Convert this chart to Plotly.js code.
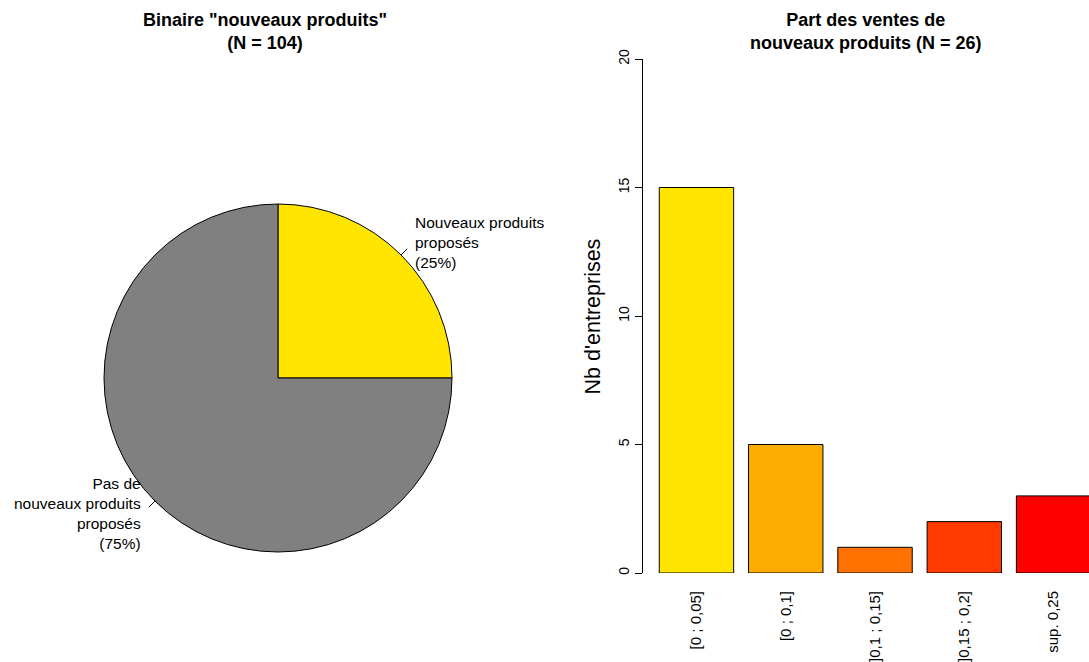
<!DOCTYPE html>
<html>
<head>
<meta charset="utf-8">
<script src="https://cdn.plot.ly/plotly-3.0.1.min.js"></script>
<style>html,body{margin:0;padding:0;background:#fff;}#chart{width:1089px;height:662px;}</style>
</head>
<body>
<div id="chart"></div>
<script>
// ---- data ----
const pieLabels = ["Nouveaux produits<br>proposés<br>(25%)", "Pas de<br>nouveaux produits<br>proposés<br>(75%)"];
const pieValues = [26, 78];
const pieColors = ["#FFE500", "#808080"];

const barCategories = ["[0 ; 0,05]", "[0 ; 0,1]", "]0,1 ; 0,15]", "]0,15 ; 0,2]", "sup. 0,25"];
const barValues = [15, 5, 1, 2, 3];
const barColors = ["#FFE500", "#FFAC00", "#FF7200", "#FF3900", "#FF0000"];

const titleLeft = 'Binaire "nouveaux produits"<br>(N = 104)';
const titleRight = 'Part des ventes de<br>nouveaux produits (N = 26)';
const yTitle = "Nb d'entreprises";

// ---- layout geometry ----
const W = 1089, H = 662;
const FONT = '"Liberation Sans", Arial, Helvetica, sans-serif';
const px = x => x / W;
const py = y => 1 - y / H;

const pieCx = 278, pieCy = 378, pieR = 174;

const total = pieValues.reduce((a, b) => a + b, 0);
const annotations = [];
const shapes = [];
let cum = 0;
pieValues.forEach((v, i) => {
  const mid = (cum + v / 2) / total;
  cum += v;
  const th = Math.PI / 2 - 2 * Math.PI * mid;
  const c = Math.cos(th), s = Math.sin(th);
  shapes.push({
    type: 'line', xref: 'paper', yref: 'paper',
    x0: px(pieCx + pieR * c), y0: py(pieCy - pieR * s),
    x1: px(pieCx + 1.05 * pieR * c), y1: py(pieCy - 1.05 * pieR * s),
    line: {color: '#000', width: 1}
  });
  annotations.push({
    xref: 'paper', yref: 'paper',
    x: px(pieCx + 1.1 * pieR * c), y: py(pieCy - 1.1 * pieR * s),
    xanchor: c >= 0 ? 'left' : 'right', yanchor: 'middle',
    align: c >= 0 ? 'left' : 'right',
    text: pieLabels[i], showarrow: false,
    font: {family: FONT, size: 15.5, color: '#000'}
  });
});

annotations.push({
  xref: 'paper', yref: 'paper', x: px(265), y: py(31.5),
  xanchor: 'center', yanchor: 'middle', showarrow: false,
  text: '<b>' + titleLeft.replace('<br>', '</b><br><b>') + '</b>',
  font: {family: FONT, size: 18, color: '#000'}
});
annotations.push({
  xref: 'paper', yref: 'paper', x: px(866), y: py(31.5),
  xanchor: 'center', yanchor: 'middle', showarrow: false,
  text: '<b>' + titleRight.replace('<br>', '</b><br><b>') + '</b>',
  font: {family: FONT, size: 18, color: '#000'}
});
annotations.push({
  xref: 'paper', yref: 'paper', x: px(592), y: py(316.5),
  xanchor: 'center', yanchor: 'middle', showarrow: false,
  textangle: -90, text: yTitle,
  font: {family: FONT, size: 21.5, color: '#000'}
});

// bar axis geometry (R barplot: width 1, space 0.2)
const axisLeftPx = 642, unitPx = 74.4, slot = 1.2;
const xr0 = -(0.2 + 0.5 + 0.032) / slot;
const xr1 = xr0 + (W - axisLeftPx) / (unitPx * slot);

const traces = [
  {
    type: 'pie', values: pieValues, labels: ['a', 'b'],
    marker: {colors: pieColors, line: {color: '#000', width: 1}},
    sort: false, direction: 'clockwise', rotation: 0,
    textinfo: 'none', hoverinfo: 'none', showlegend: false,
    domain: {x: [px(pieCx - pieR), px(pieCx + pieR)], y: [py(pieCy + pieR), py(pieCy - pieR)]}
  },
  {
    type: 'bar', x: barCategories, y: barValues,
    marker: {color: barColors, line: {color: '#000', width: 1}},
    xaxis: 'x', yaxis: 'y', showlegend: false, hoverinfo: 'none'
  }
];

const layout = {
  width: W, height: H,
  margin: {l: 0, r: 0, t: 0, b: 0},
  paper_bgcolor: '#fff', plot_bgcolor: 'rgba(0,0,0,0)',
  showlegend: false,
  bargap: 1 - 1 / slot,
  font: {family: FONT, color: '#000'},
  xaxis: {
    domain: [px(axisLeftPx), 1], range: [xr0, xr1],
    type: 'category', showline: false, showgrid: false, zeroline: false,
    ticks: 'outside', ticklen: 11, tickcolor: 'rgba(0,0,0,0)',
    tickangle: -90, tickfont: {family: FONT, size: 15, color: '#000'},
    anchor: 'y', fixedrange: true
  },
  yaxis: {
    domain: [py(573), py(59)], range: [0, 20],
    tickvals: [0, 5, 10, 15, 20],
    showline: true, linecolor: '#000', linewidth: 1,
    ticks: 'outside', ticklen: 7, tickcolor: '#000', tickwidth: 1,
    tickangle: -90, tickfont: {family: FONT, size: 14, color: '#000'},
    showgrid: false, zeroline: false, anchor: 'free', position: px(axisLeftPx),
    fixedrange: true
  },
  annotations: annotations,
  shapes: shapes
};

Plotly.newPlot('chart', traces, layout, {staticPlot: true, displayModeBar: false});
</script>
</body>
</html>
